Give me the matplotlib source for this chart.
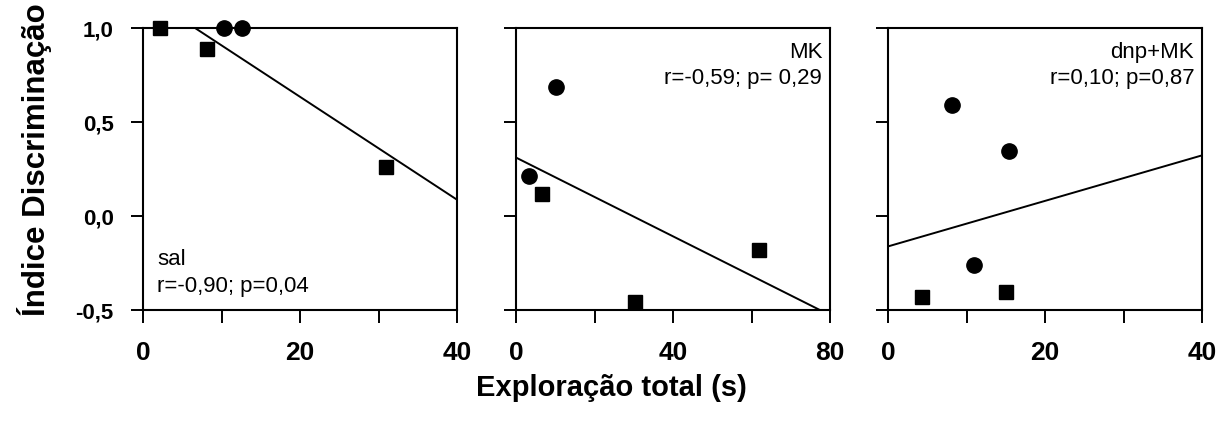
import numpy as np
from matplotlib import pyplot as plt
from matplotlib.ticker import MultipleLocator, FuncFormatter

# panel names and stats text
panelNames = ["sal", "MK", "dnp+MK"]
statTexts = ["r=-0,90; p=0,04", "r=-0,59; p= 0,29", "r=0,10; p=0,87"]
xMaxima = [40, 80, 40]

# squares
salSquareX = [2.2, 8.1, 31.0]
salSquareY = [1.0, 0.89, 0.26]
mkSquareX = [6.7, 30.2, 61.9]
mkSquareY = [0.115, -0.456, -0.18]
dnpSquareX = [4.3, 15.0]
dnpSquareY = [-0.432, -0.406]

# circles
salCircleX = [10.3, 12.6]
salCircleY = [1.0, 1.0]
mkCircleX = [3.4, 10.2]
mkCircleY = [0.212, 0.686]
dnpCircleX = [8.1, 15.4, 10.9]
dnpCircleY = [0.592, 0.348, -0.261]

yTicks = [-0.5, 0.0, 0.5, 1.0]

plt.rcParams["font.family"] = ["Liberation Sans", "DejaVu Sans"]


def commaFormat(value, pos):
    return f"{value:.1f}".replace(".", ",")


def drawPanel(ax, squareX, squareY, circleX, circleY, xMax, showY):
    allX = np.array(squareX + circleX)
    allY = np.array(squareY + circleY)
    slope, intercept = np.polyfit(allX, allY, 1)
    lineX = np.array([0, xMax])
    ax.plot(lineX, slope * lineX + intercept, color="black", lw=1.4)

    ax.plot(squareX, squareY, "s", color="black", ms=10, clip_on=False, zorder=5)
    ax.plot(circleX, circleY, "o", color="black", ms=11, clip_on=False, zorder=5)

    ax.set_xlim(0, xMax)
    ax.set_ylim(-0.5, 1.0)
    ax.xaxis.set_major_locator(MultipleLocator(xMax / 2))
    ax.xaxis.set_minor_locator(MultipleLocator(xMax / 4))
    ax.set_yticks(yTicks)
    ax.yaxis.set_major_formatter(FuncFormatter(commaFormat))
    if not showY:
        ax.set_yticklabels([])

    for spine in ax.spines.values():
        spine.set_linewidth(1.5)
    ax.tick_params(axis="both", which="both", direction="out", length=9, width=1.4)
    ax.tick_params(axis="x", which="major", pad=13)
    ax.tick_params(axis="y", which="major", pad=12)
    for label in ax.get_xticklabels():
        label.set_fontsize(19)
        label.set_fontweight("bold")
    for label in ax.get_yticklabels():
        label.set_fontsize(16)
        label.set_fontweight("bold")


def main():
    fig = plt.figure(figsize=(12.22, 4.26), dpi=100)
    lefts = [143, 516, 888]
    axes = [fig.add_axes([left / 1222, 1 - 310 / 426, 314 / 1222, 282 / 426]) for left in lefts]

    squares = [(salSquareX, salSquareY), (mkSquareX, mkSquareY), (dnpSquareX, dnpSquareY)]
    circles = [(salCircleX, salCircleY), (mkCircleX, mkCircleY), (dnpCircleX, dnpCircleY)]

    for i, ax in enumerate(axes):
        drawPanel(ax, squares[i][0], squares[i][1], circles[i][0], circles[i][1], xMaxima[i], i == 0)

    axes[0].text(0.045, 0.16, panelNames[0], transform=axes[0].transAxes, fontsize=16)
    axes[0].text(0.045, 0.064, statTexts[0], transform=axes[0].transAxes, fontsize=16)
    for i in (1, 2):
        axes[i].text(0.975, 0.894, panelNames[i], transform=axes[i].transAxes, fontsize=16, ha="right")
        axes[i].text(0.975, 0.80, statTexts[i], transform=axes[i].transAxes, fontsize=16, ha="right")

    fig.text(35 / 1222, 1 - 160 / 426, "Índice Discriminação", rotation=90,
             fontsize=22.5, fontweight="bold", ha="center", va="center")
    fig.text(0.5, 1 - 388 / 426, "Exploração total (s)", fontsize=21,
             fontweight="bold", ha="center", va="center")

    fig.savefig("out.png", dpi=100)


if __name__ == "__main__":
    main()
